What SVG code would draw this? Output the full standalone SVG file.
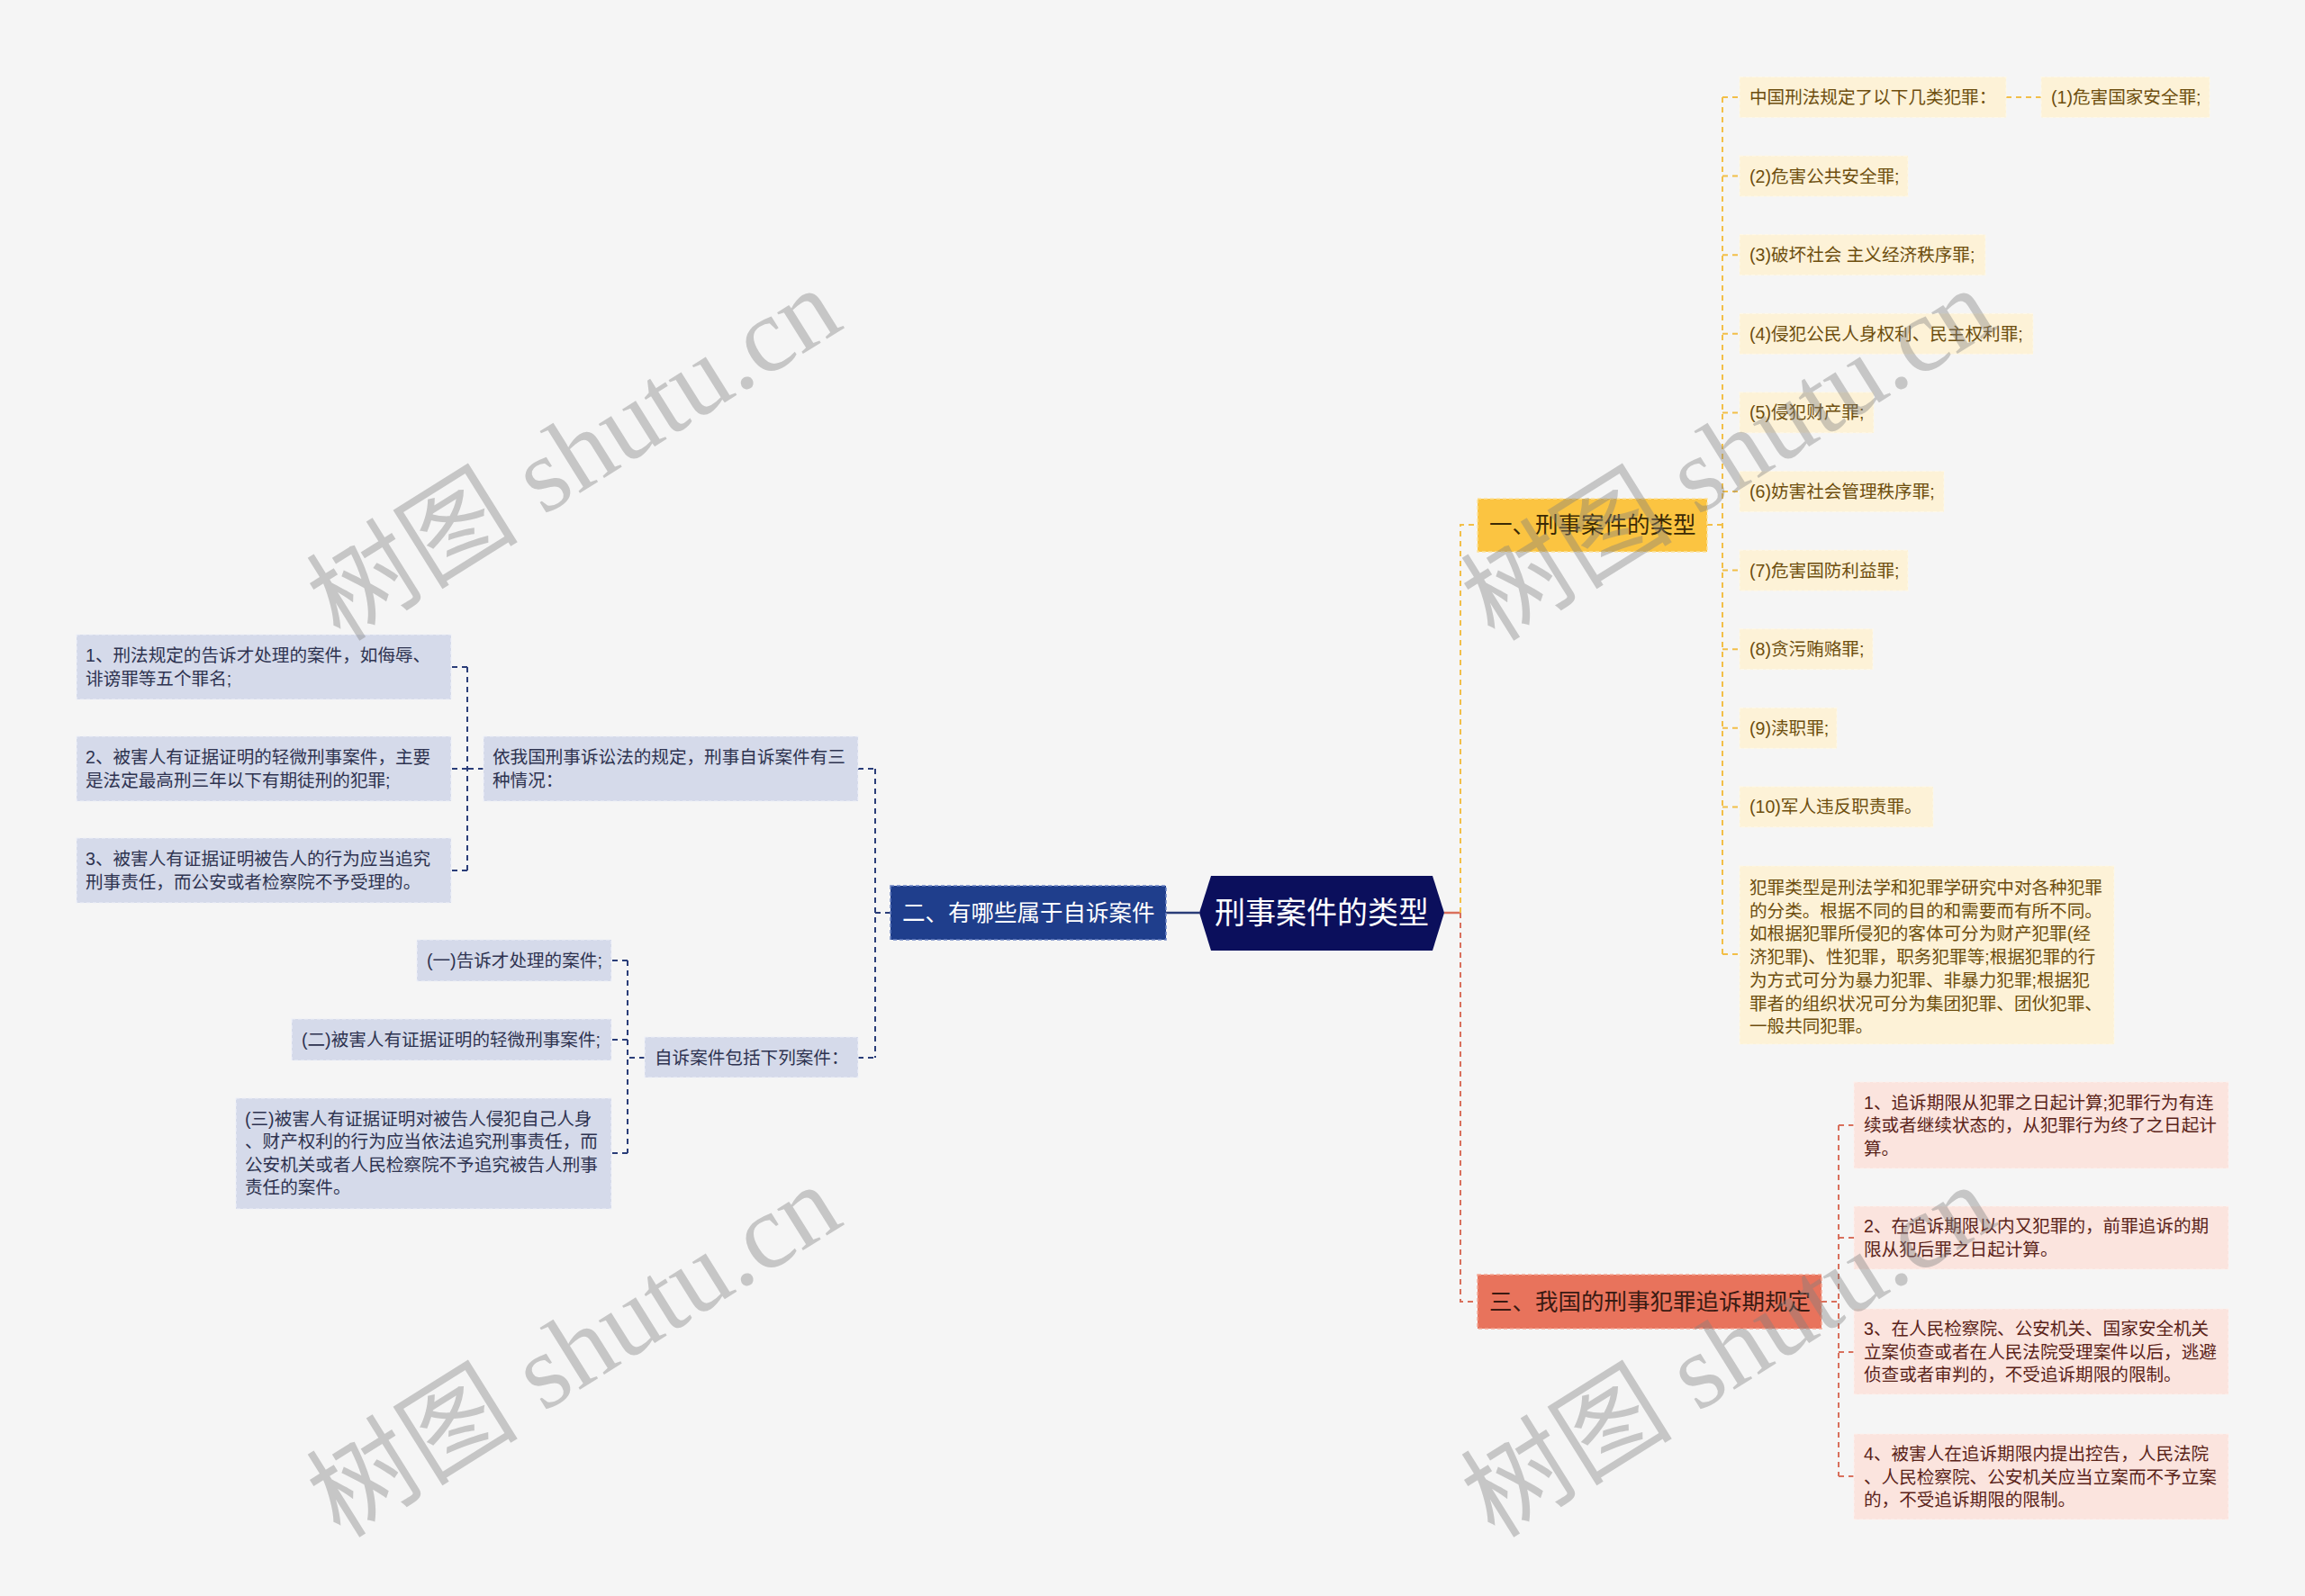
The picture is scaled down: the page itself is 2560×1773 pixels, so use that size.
<svg xmlns="http://www.w3.org/2000/svg" width="2560" height="1773" viewBox="0 0 2560 1773">
<style>
.t{font-family:"Liberation Sans","Noto Sans CJK SC",sans-serif;dominant-baseline:central}
.s{font-size:19.6px}
.ty{fill:#6d4e0e}
.tr{fill:#5a2319}
.tb{fill:#2e3350}
.c{fill:none;stroke-width:2;stroke-dasharray:6 5}
.cy{stroke:#f2bf48}
.cr{stroke:#d9705c}
.cb{stroke:#2a3d78}
.ly{fill:#fdf2d7;stroke:#fef8e8;stroke-width:1.2;stroke-dasharray:4 3}
.lr{fill:#fbe4de;stroke:#fdf1ee;stroke-width:1.2;stroke-dasharray:4 3}
.lb{fill:#d5daea;stroke:#eef0f8;stroke-width:1.2;stroke-dasharray:4 3}
.wm{font-family:"Liberation Serif","Noto Sans CJK SC",serif;font-size:118px;fill:#808080;fill-opacity:0.4}
</style>
<rect width="2560" height="1773" fill="#f5f5f5"/>

<g id="connectors">
  <path d="M1295 1014 H1332" fill="none" stroke="#2a3d78" stroke-width="2.5"/>
  <path d="M1604 1014 H1622" fill="none" stroke="#d9705c" stroke-width="2.5"/>
  <path class="c cy" d="M1622 1014 V583 H1641"/>
  <path class="c cr" d="M1622 1014 V1446 H1641"/>
  <path class="c cy" d="M1896 583 H1913"/>
  <path class="c cy" d="M1913 108 V1060"/>
  <path class="c cy" d="M1913 108 H1932 M1913 195.6 H1932 M1913 283.2 H1932 M1913 370.8 H1932 M1913 458.4 H1932 M1913 546 H1932 M1913 633.6 H1932 M1913 721.2 H1932 M1913 808.8 H1932 M1913 896.4 H1932 M1913 1060 H1932"/>
  <path class="c cy" d="M2228 108 H2267"/>
  <path class="c cr" d="M2023 1446 H2042"/>
  <path class="c cr" d="M2042 1250 V1640"/>
  <path class="c cr" d="M2042 1250 H2059 M2042 1375 H2059 M2042 1502 H2059 M2042 1640 H2059"/>
  <path class="c cb" d="M989 1014 H972"/>
  <path class="c cb" d="M972 854 V1175"/>
  <path class="c cb" d="M953 854 H972 M953 1175 H972"/>
  <path class="c cb" d="M537 854 H519"/>
  <path class="c cb" d="M519 741 V967"/>
  <path class="c cb" d="M519 741 H501 M519 854 H501 M519 967 H501"/>
  <path class="c cb" d="M716 1175 H697"/>
  <path class="c cb" d="M697 1067 V1281"/>
  <path class="c cb" d="M697 1067 H679 M697 1155 H679 M697 1281 H679"/>
</g>

<g id="root">
  <polygon points="1332,1014 1345,973 1591,973 1604,1014 1591,1056 1345,1056" fill="#0b0f5c"/>
  <text class="t" x="1468" y="1014" text-anchor="middle" font-size="34" fill="#ffffff">刑事案件的类型</text>
</g>

<g id="n1">
  <rect x="1641" y="554" width="255" height="59" fill="#fbc441" stroke="#fde29a" stroke-width="1.5" stroke-dasharray="4 3"/>
  <text class="t" x="1654" y="583" font-size="25.5" fill="#3a2a05">一、刑事案件的类型</text>
</g>
<g id="n2">
  <rect x="989" y="984" width="306" height="60" fill="#1f3e8c" stroke="#6b82c2" stroke-width="1.5" stroke-dasharray="4 3"/>
  <text class="t" x="1002" y="1014" font-size="25.5" fill="#ffffff">二、有哪些属于自诉案件</text>
</g>
<g id="n3">
  <rect x="1641" y="1416" width="382" height="60" fill="#e8735c" stroke="#f3a694" stroke-width="1.5" stroke-dasharray="4 3"/>
  <text class="t" x="1654" y="1446" font-size="25.5" fill="#3a1a12">三、我国的刑事犯罪追诉期规定</text>
</g>

<g id="y0"><rect class="ly" x="1932" y="85.5" width="296" height="45"/><text class="t s ty" x="1943" y="108">中国刑法规定了以下几类犯罪：</text></g>
<g id="y1"><rect class="ly" x="2267" y="85.5" width="187" height="45"/><text class="t s ty" x="2278" y="108">(1)危害国家安全罪;</text></g>
<g id="y2"><rect class="ly" x="1932" y="173.1" width="187" height="45"/><text class="t s ty" x="1943" y="195.6">(2)危害公共安全罪;</text></g>
<g id="y3"><rect class="ly" x="1932" y="260.7" width="273" height="45"/><text class="t s ty" x="1943" y="283.2">(3)破坏社会 主义经济秩序罪;</text></g>
<g id="y4"><rect class="ly" x="1932" y="348.3" width="326" height="45"/><text class="t s ty" x="1943" y="370.8">(4)侵犯公民人身权利、民主权利罪;</text></g>
<g id="y5"><rect class="ly" x="1932" y="435.9" width="149" height="45"/><text class="t s ty" x="1943" y="458.4">(5)侵犯财产罪;</text></g>
<g id="y6"><rect class="ly" x="1932" y="523.5" width="227" height="45"/><text class="t s ty" x="1943" y="546">(6)妨害社会管理秩序罪;</text></g>
<g id="y7"><rect class="ly" x="1932" y="611.1" width="187" height="45"/><text class="t s ty" x="1943" y="633.6">(7)危害国防利益罪;</text></g>
<g id="y8"><rect class="ly" x="1932" y="698.7" width="148" height="45"/><text class="t s ty" x="1943" y="721.2">(8)贪污贿赂罪;</text></g>
<g id="y9"><rect class="ly" x="1932" y="786.3" width="108" height="45"/><text class="t s ty" x="1943" y="808.8">(9)渎职罪;</text></g>
<g id="y10"><rect class="ly" x="1932" y="873.9" width="215" height="45"/><text class="t s ty" x="1943" y="896.4">(10)军人违反职责罪。</text></g>
<g id="y11"><rect class="ly" x="1932" y="962" width="416" height="198"/>
  <text class="t s ty" x="1943" y="986">犯罪类型是刑法学和犯罪学研究中对各种犯罪</text>
  <text class="t s ty" x="1943" y="1011.7">的分类。根据不同的目的和需要而有所不同。</text>
  <text class="t s ty" x="1943" y="1037.4">如根据犯罪所侵犯的客体可分为财产犯罪(经</text>
  <text class="t s ty" x="1943" y="1063.1">济犯罪)、性犯罪，职务犯罪等;根据犯罪的行</text>
  <text class="t s ty" x="1943" y="1088.8">为方式可分为暴力犯罪、非暴力犯罪;根据犯</text>
  <text class="t s ty" x="1943" y="1114.5">罪者的组织状况可分为集团犯罪、团伙犯罪、</text>
  <text class="t s ty" x="1943" y="1140.2">一般共同犯罪。</text>
</g>

<g id="r1"><rect class="lr" x="2059" y="1202" width="416" height="96"/>
  <text class="t s tr" x="2070" y="1224.5">1、追诉期限从犯罪之日起计算;犯罪行为有连</text>
  <text class="t s tr" x="2070" y="1250">续或者继续状态的，从犯罪行为终了之日起计</text>
  <text class="t s tr" x="2070" y="1275.5">算。</text>
</g>
<g id="r2"><rect class="lr" x="2059" y="1340" width="416" height="70"/>
  <text class="t s tr" x="2070" y="1362.3">2、在追诉期限以内又犯罪的，前罪追诉的期</text>
  <text class="t s tr" x="2070" y="1387.8">限从犯后罪之日起计算。</text>
</g>
<g id="r3"><rect class="lr" x="2059" y="1454" width="416" height="95"/>
  <text class="t s tr" x="2070" y="1476">3、在人民检察院、公安机关、国家安全机关</text>
  <text class="t s tr" x="2070" y="1501.5">立案侦查或者在人民法院受理案件以后，逃避</text>
  <text class="t s tr" x="2070" y="1527">侦查或者审判的，不受追诉期限的限制。</text>
</g>
<g id="r4"><rect class="lr" x="2059" y="1593" width="416" height="95"/>
  <text class="t s tr" x="2070" y="1615">4、被害人在追诉期限内提出控告，人民法院</text>
  <text class="t s tr" x="2070" y="1640.5">、人民检察院、公安机关应当立案而不予立案</text>
  <text class="t s tr" x="2070" y="1666">的，不受追诉期限的限制。</text>
</g>

<g id="b0"><rect class="lb" x="537" y="818" width="416" height="72"/>
  <text class="t s tb" x="547" y="841.3">依我国刑事诉讼法的规定，刑事自诉案件有三</text>
  <text class="t s tb" x="547" y="866.8">种情况：</text>
</g>
<g id="b1"><rect class="lb" x="85" y="705" width="416" height="72"/>
  <text class="t s tb" x="95" y="728.3">1、刑法规定的告诉才处理的案件，如侮辱、</text>
  <text class="t s tb" x="95" y="753.8">诽谤罪等五个罪名;</text>
</g>
<g id="b2"><rect class="lb" x="85" y="818" width="416" height="72"/>
  <text class="t s tb" x="95" y="841.3">2、被害人有证据证明的轻微刑事案件，主要</text>
  <text class="t s tb" x="95" y="866.8">是法定最高刑三年以下有期徒刑的犯罪;</text>
</g>
<g id="b3"><rect class="lb" x="85" y="931" width="416" height="72"/>
  <text class="t s tb" x="95" y="954.3">3、被害人有证据证明被告人的行为应当追究</text>
  <text class="t s tb" x="95" y="979.8">刑事责任，而公安或者检察院不予受理的。</text>
</g>
<g id="b4"><rect class="lb" x="716" y="1152" width="237" height="45"/>
  <text class="t s tb" x="727" y="1175">自诉案件包括下列案件：</text>
</g>
<g id="b5"><rect class="lb" x="463" y="1044" width="216" height="46"/>
  <text class="t s tb" x="474" y="1067">(一)告诉才处理的案件;</text>
</g>
<g id="b6"><rect class="lb" x="324" y="1132" width="355" height="46"/>
  <text class="t s tb" x="335" y="1155">(二)被害人有证据证明的轻微刑事案件;</text>
</g>
<g id="b7"><rect class="lb" x="262" y="1220" width="417" height="123"/>
  <text class="t s tb" x="272" y="1242.8">(三)被害人有证据证明对被告人侵犯自己人身</text>
  <text class="t s tb" x="272" y="1268.3">、财产权利的行为应当依法追究刑事责任，而</text>
  <text class="t s tb" x="272" y="1293.8">公安机关或者人民检察院不予追究被告人刑事</text>
  <text class="t s tb" x="272" y="1319.3">责任的案件。</text>
</g>

<g id="watermarks">
  <text class="wm" transform="translate(378,714) rotate(-32)">树图 shutu.cn</text>
  <text class="wm" transform="translate(1660,714) rotate(-32)">树图 shutu.cn</text>
  <text class="wm" transform="translate(378,1710) rotate(-32)">树图 shutu.cn</text>
  <text class="wm" transform="translate(1660,1710) rotate(-32)">树图 shutu.cn</text>
</g>
</svg>
